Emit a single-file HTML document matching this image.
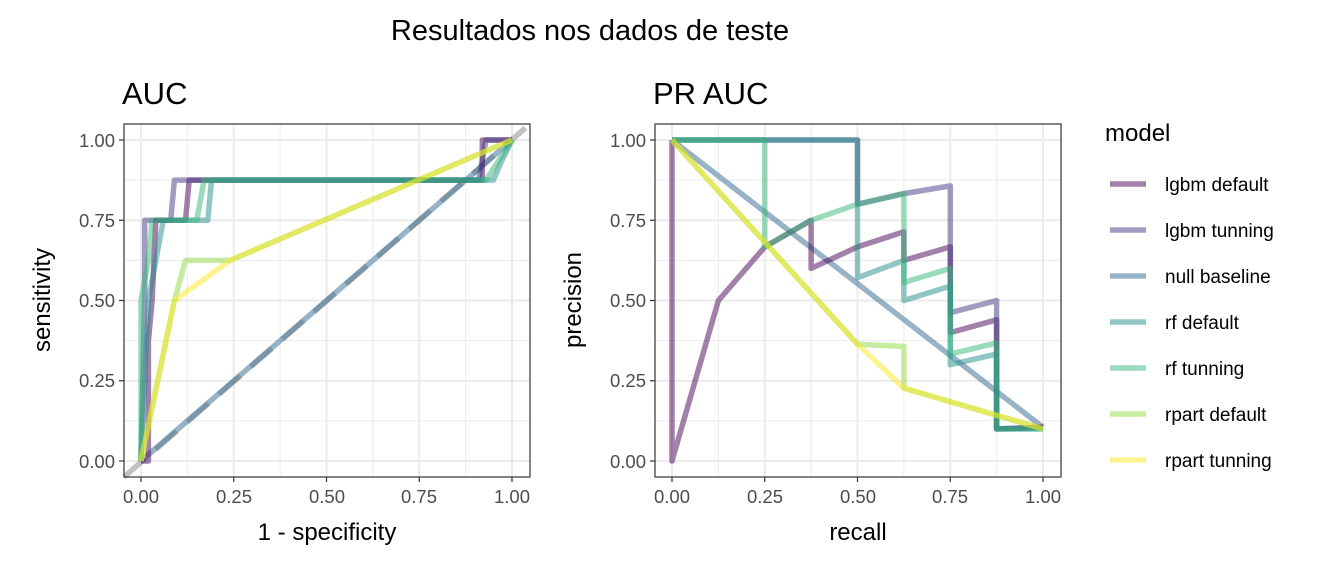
<!DOCTYPE html>
<html><head><meta charset="utf-8"><style>
body{margin:0;background:#fff}
svg{display:block;font-family:"Liberation Sans",Arial,sans-serif}
</style></head><body>
<svg id="s" width="1344" height="576" viewBox="0 0 1344 576" xmlns="http://www.w3.org/2000/svg">
<rect width="1344" height="576" fill="#fff"/>
<text x="590" y="40" font-size="29" text-anchor="middle" fill="#000">Resultados nos dados de teste</text>
<text x="122" y="104" font-size="31" fill="#000">AUC</text>
<text x="653" y="104" font-size="31" fill="#000">PR AUC</text>
<g id="grid"></g>
<g id="lines" fill="none" stroke-width="5.5" stroke-linejoin="round" stroke-linecap="butt"></g>
<rect x="124" y="124" width="406" height="353" fill="none" stroke="#333" stroke-width="1.2"/>
<rect x="655" y="124" width="406" height="353" fill="none" stroke="#333" stroke-width="1.2"/>
<g font-size="18.5" fill="#4d4d4d" text-anchor="end">
<text x="115" y="147">1.00</text><text x="115" y="227">0.75</text><text x="115" y="307">0.50</text><text x="115" y="387">0.25</text><text x="115" y="468">0.00</text>
<text x="646" y="147">1.00</text><text x="646" y="227">0.75</text><text x="646" y="307">0.50</text><text x="646" y="387">0.25</text><text x="646" y="468">0.00</text>
</g>
<g font-size="18.5" fill="#4d4d4d" text-anchor="middle">
<text x="141" y="503">0.00</text><text x="234" y="503">0.25</text><text x="327" y="503">0.50</text><text x="419" y="503">0.75</text><text x="512" y="503">1.00</text>
<text x="672" y="503">0.00</text><text x="765" y="503">0.25</text><text x="858" y="503">0.50</text><text x="950" y="503">0.75</text><text x="1043" y="503">1.00</text>
</g>
<text x="327" y="540" font-size="24" text-anchor="middle">1 - specificity</text>
<text x="858" y="540" font-size="24" text-anchor="middle">recall</text>
<text transform="translate(50,300) rotate(-90)" font-size="24" text-anchor="middle">sensitivity</text>
<text transform="translate(581,300) rotate(-90)" font-size="24" text-anchor="middle">precision</text>
<text x="1105" y="141" font-size="24">model</text>
<g font-size="19" fill="#000">
<text x="1165" y="191">lgbm default</text><text x="1165" y="237">lgbm tunning</text><text x="1165" y="283">null baseline</text>
<text x="1165" y="329">rf default</text><text x="1165" y="375">rf tunning</text><text x="1165" y="421">rpart default</text><text x="1165" y="467">rpart tunning</text>
</g>
<g id="leg" stroke-width="5.5" stroke-opacity="0.5"></g>
</svg>
<script>
const NS="http://www.w3.org/2000/svg";
const col={ld:"#440154",lt:"#443A83",nb:"#31688E",rd:"#21908C",rt:"#35B779",pd:"#8FD744",pt:"#FDE725"};
const g=document.getElementById('grid'),L=document.getElementById('lines'),lg=document.getElementById('leg');
function el(p,t,a){const e=document.createElementNS(NS,t);for(const k in a)e.setAttribute(k,a[k]);p.appendChild(e);return e;}
const X=[141,672];
function px(i,v){return X[i]+371*v} function py(v){return 461-321*v}
for(let i=0;i<2;i++){
 const x0=i?655:124;
 for(let k=0;k<=8;k++){const v=k/8,w=k%2?1:2;
  el(g,'line',{x1:px(i,v),x2:px(i,v),y1:124,y2:477,stroke:'#ebebeb','stroke-width':w});
  el(g,'line',{x1:x0,x2:x0+406,y1:py(v),y2:py(v),stroke:'#ebebeb','stroke-width':w});
  if(k%2==0){el(g,'line',{x1:px(i,v),x2:px(i,v),y1:477,y2:482,stroke:'#333','stroke-width':1.2});
   el(g,'line',{x1:x0-5,x2:x0,y1:py(v),y2:py(v),stroke:'#333','stroke-width':1.2});}
 }
}
function pl(i,c,pts,extra){const s=pts.map(p=>px(i,p[0]).toFixed(1)+","+py(p[1]).toFixed(1)).join(" ");
 const a={points:s,stroke:c,'stroke-opacity':0.5};Object.assign(a,extra||{});el(L,'polyline',a);}
el(L,'line',{x1:124,y1:477,x2:530,y2:124,stroke:'#999','stroke-width':5.5,'stroke-dasharray':'28 14','stroke-opacity':0.6});
pl(0,col.nb,[[0,0],[1,1]]);
pl(0,col.ld,[[0,0],[0.02,0],[0.02,0.375],[0.03,0.5],[0.04,0.75],[0.12,0.75],[0.13,0.875],[0.92,0.875],[0.92,1],[1,1]]);
pl(0,col.lt,[[0,0],[0.01,0.5],[0.01,0.75],[0.08,0.75],[0.09,0.875],[0.91,0.875],[0.93,1],[1,1]]);
pl(0,col.rd,[[0,0],[0.02,0.5],[0.04,0.625],[0.06,0.75],[0.18,0.75],[0.19,0.875],[0.95,0.875],[0.97,0.93],[1,1]]);
pl(0,col.rt,[[0,0],[0,0.5],[0.02,0.625],[0.03,0.75],[0.15,0.75],[0.17,0.875],[0.93,0.875],[1,1]]);
pl(0,col.pd,[[0,0],[0.09,0.5],[0.12,0.625],[0.24,0.625],[1,1]]);
pl(0,col.pt,[[0,0],[0.09,0.5],[0.24,0.625],[1,1]]);
pl(1,col.nb,[[0,1],[1,0.105]]);
pl(1,col.ld,[[0,1],[0,0],[0.125,0.5],[0.25,0.667],[0.375,0.75],[0.375,0.6],[0.5,0.667],[0.625,0.714],[0.625,0.625],[0.75,0.667],[0.75,0.4],[0.875,0.44],[0.875,0.1],[1,0.105]]);
pl(1,col.lt,[[0,1],[0.5,1],[0.5,0.8],[0.625,0.833],[0.75,0.857],[0.75,0.462],[0.875,0.5],[0.875,0.1],[1,0.105]]);
pl(1,col.rd,[[0,1],[0.5,1],[0.5,0.571],[0.625,0.625],[0.625,0.5],[0.75,0.545],[0.75,0.3],[0.875,0.333],[0.875,0.1],[1,0.1]]);
pl(1,col.rt,[[0,1],[0.25,1],[0.25,0.667],[0.375,0.75],[0.5,0.8],[0.625,0.833],[0.625,0.556],[0.75,0.6],[0.75,0.333],[0.875,0.368],[0.875,0.1],[1,0.1]]);
pl(1,col.pd,[[0,1],[0.5,0.364],[0.625,0.357],[0.625,0.227],[1,0.1]]);
pl(1,col.pt,[[0,1],[0.5,0.364],[0.625,0.227],[1,0.1]]);
["ld","lt","nb","rd","rt","pd","pt"].forEach((k,j)=>{const y=184+46*j;el(lg,'line',{x1:1110,x2:1146,y1:y,y2:y,stroke:col[k]});});
</script>
</body></html>
